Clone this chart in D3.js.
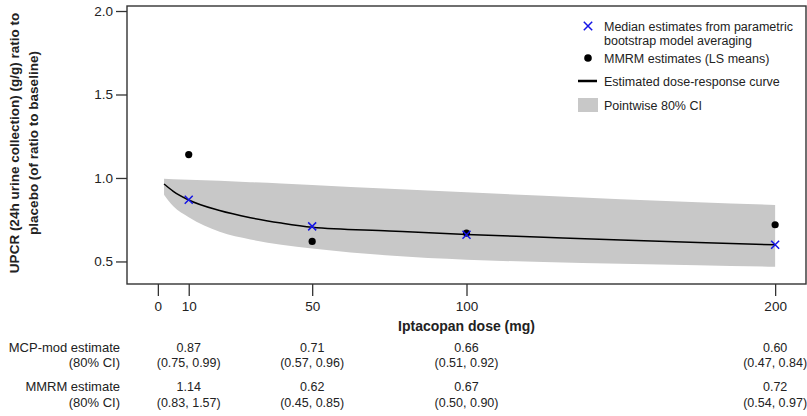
<!DOCTYPE html>
<html lang="en">
<head>
    <meta charset="UTF-8">
    <title>Iptacopan dose-response</title>
    <script src="https://d3js.org/d3.v7.min.js"></script>
    <style>
        body { margin: 0; background: #fff; }
        text { font-family: "Liberation Sans", Arial, sans-serif; fill: #222; }
        .bold { font-weight: bold; }
    </style>
</head>
<body>
<svg id="chart" width="807" height="416"></svg>
<script>
    // doses with estimates
    var doses = [10, 50, 100, 200];
    var mcpEst = [0.87, 0.71, 0.66, 0.60];
    var mcpCI = ["(0.75, 0.99)", "(0.57, 0.96)", "(0.51, 0.92)", "(0.47, 0.84)"];
    var mmrmEst = [1.14, 0.62, 0.67, 0.72];
    var mmrmCI = ["(0.83, 1.57)", "(0.45, 0.85)", "(0.50, 0.90)", "(0.54, 0.97)"];

    // estimated curve and pointwise band
    var curveDose = [2, 5, 10, 20, 30, 40, 50, 75, 100, 125, 150, 175, 200];
    var curveMid = [0.964, 0.92, 0.868, 0.805, 0.762, 0.73, 0.705, 0.683, 0.662, 0.645, 0.628, 0.613, 0.60];
    var curveLow = [0.90, 0.83, 0.765, 0.678, 0.632, 0.60, 0.577, 0.535, 0.51, 0.497, 0.487, 0.478, 0.469];
    var curveHigh = [0.995, 0.993, 0.99, 0.983, 0.975, 0.967, 0.958, 0.935, 0.915, 0.893, 0.872, 0.855, 0.838];

    var xTicks = [0, 10, 50, 100, 200];
    var yTicks = [0.5, 1.0, 1.5, 2.0];

    var legendLabels = [["Median estimates from parametric", "bootstrap model averaging"],
        ["MMRM estimates (LS means)"], ["Estimated dose-response curve"], ["Pointwise 80% CI"]];

    var svg = d3.select("#chart");
    var plotLeft = 127, plotRight = 806, plotTop = 6, plotBottom = 284;

    var x = d3.scaleLinear().domain([-10, 210]).range([plotLeft, plotRight]);
    var y = d3.scaleLinear().domain([0.365, 2.03]).range([plotBottom, plotTop]);

    var band = curveDose.map(function (d, i) {
        return {d: d, lo: curveLow[i], hi: curveHigh[i], m: curveMid[i]};
    });

    svg.append("path")
        .datum(band)
        .attr("fill", "#c8c8c8")
        .attr("d", d3.area()
            .x(function (p) { return x(p.d); })
            .y0(function (p) { return y(p.lo); })
            .y1(function (p) { return y(p.hi); })
            .curve(d3.curveMonotoneX));

    svg.append("path")
        .datum(band)
        .attr("fill", "none")
        .attr("stroke", "#000")
        .attr("stroke-width", 1.5)
        .attr("d", d3.line()
            .x(function (p) { return x(p.d); })
            .y(function (p) { return y(p.m); })
            .curve(d3.curveMonotoneX));

    // MMRM means
    svg.append("g").selectAll("circle")
        .data(doses)
        .enter().append("circle")
        .attr("cx", function (d) { return x(d); })
        .attr("cy", function (d, i) { return y(mmrmEst[i]); })
        .attr("r", 3.6)
        .attr("fill", "#000");

    // blue crosses
    function cross(sel, s) {
        sel.append("path")
            .attr("d", "M" + (-s) + "," + (-s) + "L" + s + "," + s + "M" + (-s) + "," + s + "L" + s + "," + (-s))
            .attr("stroke", "#1515e6")
            .attr("stroke-width", 1.5)
            .attr("fill", "none");
    }
    svg.append("g").selectAll("g")
        .data(doses)
        .enter().append("g")
        .attr("transform", function (d, i) { return "translate(" + x(d) + "," + y(mcpEst[i]) + ")"; })
        .call(cross, 4);

    // frame
    svg.append("rect")
        .attr("x", plotLeft).attr("y", plotTop)
        .attr("width", plotRight - plotLeft).attr("height", plotBottom - plotTop)
        .attr("fill", "none").attr("stroke", "#333").attr("stroke-width", 1.4);

    // axes
    var yAxis = d3.axisLeft(y).tickValues(yTicks).tickSize(11).tickPadding(3)
        .tickFormat(d3.format(".1f"));
    var gy = svg.append("g").attr("transform", "translate(" + plotLeft + ",0)").call(yAxis);
    var xAxis = d3.axisBottom(x).tickValues(xTicks).tickSize(12).tickPadding(5);
    var gx = svg.append("g").attr("transform", "translate(0," + plotBottom + ")").call(xAxis);
    [gx, gy].forEach(function (g) {
        g.select(".domain").remove();
        g.selectAll(".tick line").attr("stroke", "#333").attr("stroke-width", 1.3);
        g.selectAll(".tick text").attr("font-size", 13.5)
            .attr("font-family", "Liberation Sans, Arial, sans-serif").attr("fill", "#222");
    });

    svg.append("text").attr("class", "bold")
        .attr("x", x(100)).attr("y", 331)
        .attr("text-anchor", "middle").attr("font-size", 14)
        .text("Iptacopan dose (mg)");

    var yt = svg.append("text").attr("class", "bold")
        .attr("transform", "translate(19,143) rotate(-90)")
        .attr("text-anchor", "middle").attr("font-size", 13.5);
    yt.append("tspan").attr("x", 0).attr("y", 0).text("UPCR (24h urine collection) (g/g) ratio to");
    yt.append("tspan").attr("x", 0).attr("y", 19).text("placebo (of ratio to baseline)");

    // legend
    var lg = svg.append("g");
    lg.append("g").attr("transform", "translate(588,26)").call(cross, 4.2);
    lg.append("circle").attr("cx", 588).attr("cy", 58).attr("r", 3.8).attr("fill", "#000");
    lg.append("line").attr("x1", 578).attr("x2", 597).attr("y1", 81).attr("y2", 81)
        .attr("stroke", "#000").attr("stroke-width", 2.5);
    lg.append("rect").attr("x", 578).attr("y", 98).attr("width", 20).attr("height", 14)
        .attr("fill", "#c8c8c8");
    var legendY = [[26, 40], [58], [81], [105]];
    legendLabels.forEach(function (lines, i) {
        lines.forEach(function (t, j) {
            lg.append("text").attr("x", 604).attr("y", legendY[i][j] + 4.5)
                .attr("font-size", 12.5).text(t);
        });
    });

    // table under the axis, columns on the dose scale
    var tbl = svg.append("g");
    var rows = [
        {label: "MCP-mod estimate", y: 351.5, vals: mcpEst.map(d3.format(".2f"))},
        {label: "(80% CI)", y: 366.5, vals: mcpCI},
        {label: "MMRM estimate", y: 390.5, vals: mmrmEst.map(d3.format(".2f"))},
        {label: "(80% CI)", y: 406.5, vals: mmrmCI}
    ];
    rows.forEach(function (r) {
        tbl.append("text").attr("x", 120).attr("y", r.y)
            .attr("text-anchor", "end").attr("font-size", 13).text(r.label);
        tbl.selectAll(null).data(doses).enter().append("text")
            .attr("x", function (d) { return x(d); })
            .attr("y", r.y)
            .attr("text-anchor", "middle").attr("font-size", 12.5)
            .text(function (d, i) { return r.vals[i]; });
    });
</script>
</body>
</html>
